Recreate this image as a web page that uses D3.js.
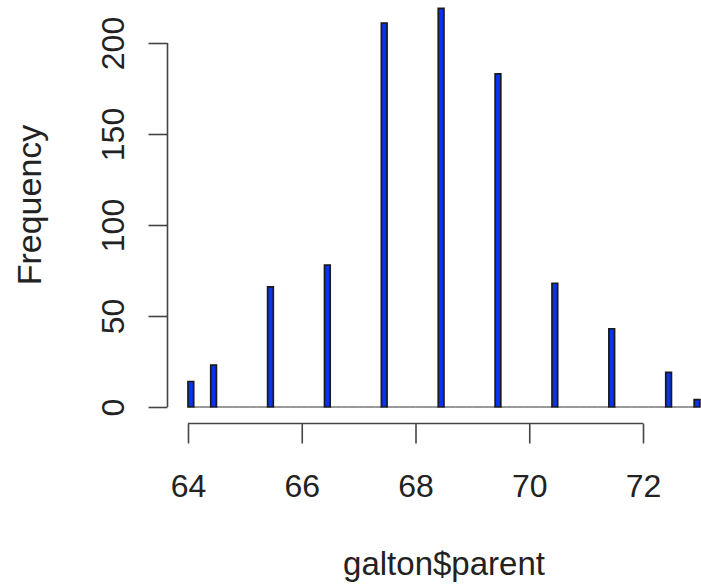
<!DOCTYPE html>
<html>
<head>
<meta charset="utf-8">
<script src="https://d3js.org/d3.v7.min.js"></script>
<style>
body{margin:0;background:#fff}
text{font-family:"Liberation Sans",Arial,Helvetica,sans-serif;fill:#222}
</style>
</head>
<body>
<div id="hist"></div>
<script>
// galton$parent, counts per 0.1 wide bin (R hist, right closed)
var parentValues=[64,64.5,65.5,66.5,67.5,68.5,69.5,70.5,71.5,72.5,73]
var counts=[14,23,66,78,211,219,183,68,43,19,4]
var xTicks=[64,66,68,70,72]
var yTicks=[0,50,100,150,200]
var binStart=64, binEnd=73, binWidth=0.1

var width=701, height=585

var svg=d3.select('#hist').append('svg')
    .attr('width',width)
    .attr('height',height)

var x=d3.scaleLinear().domain([64,72]).range([188,643])
var y=d3.scaleLinear().domain([0,200]).range([407,43])

// build all bins, empty ones are drawn flat like R does
var nb=Math.round((binEnd-binStart)/binWidth)
var bins=[]
for(var i=0;i<nb;i++){
    var x0=binStart+i*binWidth, x1=x0+binWidth
    bins.push({x0:x0,x1:x1,n:0})
}
parentValues.forEach(function(v,i){
    var k=Math.ceil((v-binStart)/binWidth-1e-6)-1
    if(k<0)k=0 // include.lowest
    bins[k].n=counts[i]
})

svg.append('g').selectAll('path')
    .data(bins)
    .enter()
    .append('path')
    .attr('d',function(d){
        return 'M'+x(d.x0)+','+y(0)+'V'+y(d.n)+'H'+x(d.x1)+'V'+y(0)+'Z'
    })
    .attr('fill','#0833f0')
    .attr('stroke','#1a1a1a')
    .attr('stroke-width',1.7)
    .attr('stroke-opacity',function(d){return d.n==0?0.6:1})

// y axis
var yaxis=svg.append('g')
    .attr('transform','translate(167.5,0)')
    .call(d3.axisLeft(y).tickValues(yTicks).tickSize(19).tickFormat(d3.format('d')))
yaxis.select('.domain').attr('d','M0,'+y(0)+'V'+y(200)).attr('stroke','#444').attr('stroke-width',1.6)
yaxis.selectAll('.tick line').attr('stroke','#444').attr('stroke-width',1.6)
yaxis.selectAll('.tick text')
    .attr('x',0).attr('y',0).attr('dy',0)
    .attr('transform','translate(-44,0) rotate(-90)')
    .attr('text-anchor','middle')
    .style('font-size','32px')
    .attr('fill','#222')

// x axis
var xaxis=svg.append('g')
    .attr('transform','translate(0,423.5)')
    .call(d3.axisBottom(x).tickValues(xTicks).tickSize(20).tickFormat(d3.format('d')))
xaxis.select('.domain').attr('d','M'+x(64)+',0H'+x(72)).attr('stroke','#444').attr('stroke-width',1.6)
xaxis.selectAll('.tick line').attr('stroke','#444').attr('stroke-width',1.6)
xaxis.selectAll('.tick text')
    .attr('y',73).attr('dy',0)
    .style('font-size','32px')
    .attr('fill','#222')

svg.selectAll('g').attr('font-family',null).attr('font-size',null)

// axis titles
svg.append('text')
    .attr('x',444)
    .attr('y',575)
    .attr('text-anchor','middle')
    .style('font-size','33px')
    .text('galton$parent')

svg.append('text')
    .attr('transform','translate(41,205) rotate(-90)')
    .attr('text-anchor','middle')
    .style('font-size','34px')
    .text('Frequency')
</script>
</body>
</html>
